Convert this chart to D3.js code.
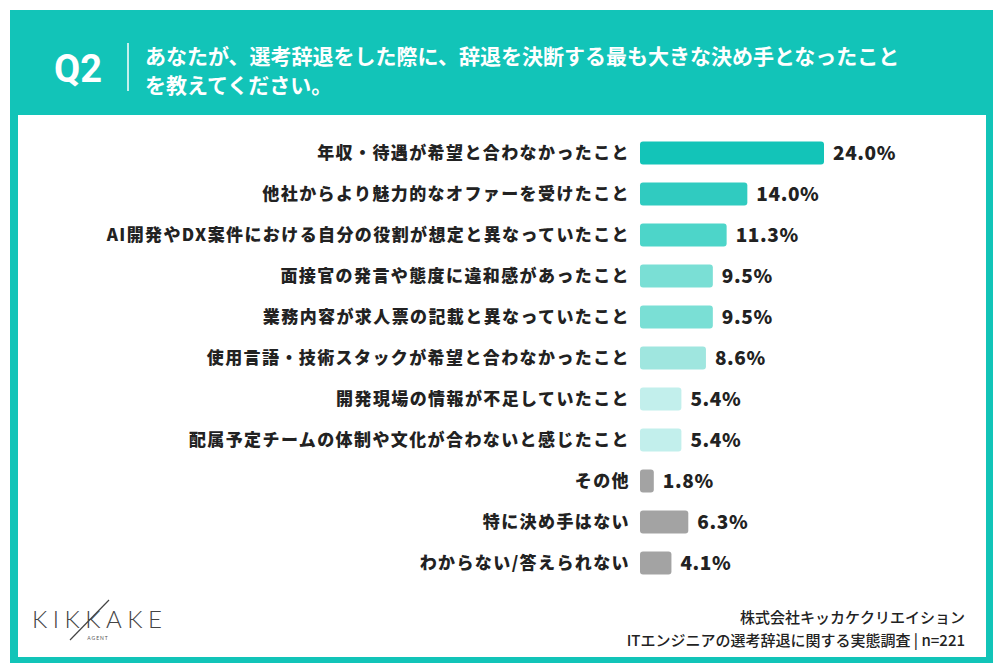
<!DOCTYPE html>
<html>
<head>
<meta charset="utf-8">
<script src="https://cdn.jsdelivr.net/npm/d3@7"></script>
<style>
  body { margin: 0; background: #fff; }
  text { font-family: "Noto Sans CJK JP", "Noto Sans", sans-serif; }
</style>
</head>
<body>
<div id="chart"></div>
<script>
// Data
const categories = [
  "年収・待遇が希望と合わなかったこと",
  "他社からより魅力的なオファーを受けたこと",
  "AI開発やDX案件における自分の役割が想定と異なっていたこと",
  "面接官の発言や態度に違和感があったこと",
  "業務内容が求人票の記載と異なっていたこと",
  "使用言語・技術スタックが希望と合わなかったこと",
  "開発現場の情報が不足していたこと",
  "配属予定チームの体制や文化が合わないと感じたこと",
  "その他",
  "特に決め手はない",
  "わからない/答えられない"
];
const values = [24.0, 14.0, 11.3, 9.5, 9.5, 8.6, 5.4, 5.4, 1.8, 6.3, 4.1];
const barColors = ["#13c4b8", "#30cbc0", "#4dd5c9", "#7adfd5", "#7adfd5", "#9fe6df",
                   "#c2efec", "#c2efec", "#a3a3a3", "#a3a3a3", "#a3a3a3"];
const titleLines = [
  "あなたが、選考辞退をした際に、辞退を決断する最も大きな決め手となったこと",
  "を教えてください。"
];
const footerLines = ["株式会社キッカケクリエイション", "ITエンジニアの選考辞退に関する実態調査 | n=221"];

const W = 1000, H = 672;
const teal = "#12c4b8";

const svg = d3.select("#chart")
  .append("svg")
  .attr("width", W)
  .attr("height", H);

// Frame: teal card with a white panel inside
svg.append("rect")
  .attr("x", 10).attr("y", 10)
  .attr("width", 983).attr("height", 653)
  .attr("fill", teal);
svg.append("rect")
  .attr("x", 18).attr("y", 115)
  .attr("width", 968).attr("height", 542)
  .attr("fill", "#fff");

// Header
svg.append("text")
  .attr("x", 54).attr("y", 82)
  .attr("fill", "#fff")
  .style("font-family", "Roboto, 'Noto Sans', sans-serif")
  .style("font-weight", 700)
  .style("font-size", "38px")
  .text("Q2");
svg.append("line")
  .attr("x1", 128).attr("x2", 128)
  .attr("y1", 43).attr("y2", 91)
  .attr("stroke", "#fff")
  .attr("stroke-width", 1.5);
svg.selectAll("text.title")
  .data(titleLines)
  .enter()
  .append("text")
  .attr("class", "title")
  .attr("x", 145)
  .attr("y", (d, i) => 64 + i * 29)
  .attr("fill", "#fff")
  .style("font-weight", 700)
  .style("font-size", "21px")
  .text(d => d);

// Scales
const x = d3.scaleLinear()
  .domain([0, 24])
  .range([640, 824]);
const y = d3.scaleBand()
  .domain(categories)
  .range([132.5, 583.5])
  .paddingInner(0.44)
  .paddingOuter(0.22);

const rows = svg.selectAll("g.row")
  .data(categories.map((c, i) => ({ cat: c, value: values[i], color: barColors[i] })))
  .enter()
  .append("g")
  .attr("class", "row");

rows.append("rect")
  .attr("x", x(0))
  .attr("y", d => y(d.cat))
  .attr("width", d => x(d.value) - x(0))
  .attr("height", y.bandwidth())
  .attr("rx", 3).attr("ry", 3)
  .attr("fill", d => d.color);

rows.append("text")
  .attr("x", 630)
  .attr("y", d => y(d.cat) + y.bandwidth() / 2)
  .attr("dy", "0.36em")
  .attr("text-anchor", "end")
  .attr("fill", "#222")
  .style("font-weight", 800)
  .style("font-size", "17px")
  .style("letter-spacing", "1.4px")
  .text(d => d.cat);

rows.append("text")
  .attr("x", d => x(d.value) + 9)
  .attr("y", d => y(d.cat) + y.bandwidth() / 2)
  .attr("dy", "0.36em")
  .attr("fill", "#222")
  .style("font-weight", 800)
  .style("font-size", "19px")
  .style("letter-spacing", "0.6px")
  .text(d => d.value.toFixed(1) + "%");

// Logo
const logo = svg.append("g");
logo.append("text")
  .attr("x", 32).attr("y", 628)
  .attr("fill", "#444")
  .style("font-family", "Lato, 'Open Sans', sans-serif")
  .style("font-weight", 300)
  .style("font-size", "24px")
  .style("letter-spacing", "5.5px")
  .text("KIKKAKE");
logo.append("line")
  .attr("x1", 109).attr("y1", 600)
  .attr("x2", 70).attr("y2", 640)
  .attr("stroke", "#444")
  .attr("stroke-width", 1.2);
logo.append("text")
  .attr("x", 98).attr("y", 640)
  .attr("text-anchor", "middle")
  .attr("fill", "#555")
  .style("font-family", "Lato, sans-serif")
  .style("font-size", "5px")
  .style("letter-spacing", "1px")
  .text("AGENT");

// Footer
svg.selectAll("text.footer")
  .data(footerLines)
  .enter()
  .append("text")
  .attr("class", "footer")
  .attr("x", 965)
  .attr("y", (d, i) => 623 + i * 23)
  .attr("text-anchor", "end")
  .attr("fill", "#222")
  .style("font-weight", 500)
  .style("font-size", "15px")
  .text(d => d);
</script>
</body>
</html>
